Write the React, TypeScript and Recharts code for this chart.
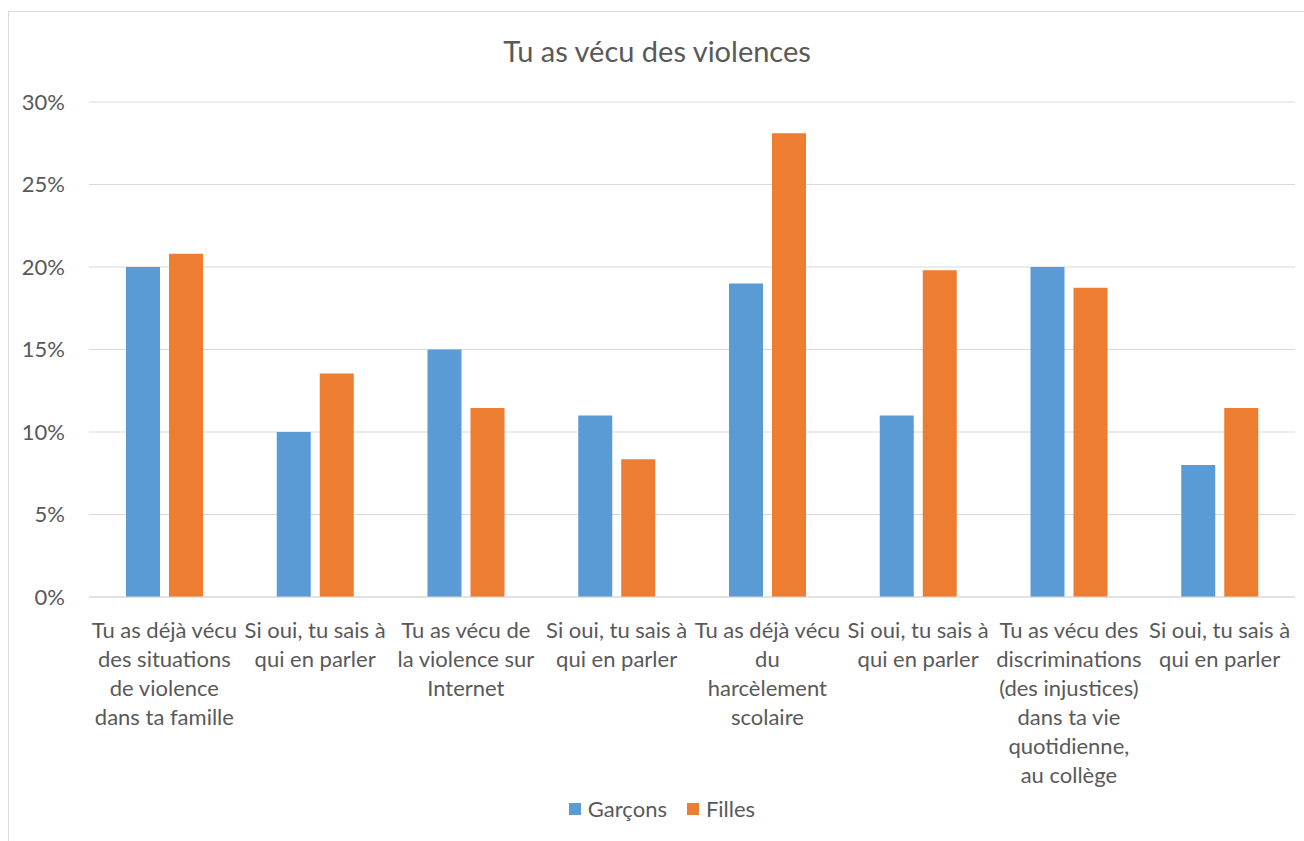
import {
  BarChart,
  Bar,
  XAxis,
  YAxis,
  CartesianGrid,
} from "recharts";

const categories = [
  "Tu as déjà vécu\ndes situations\nde violence\ndans ta famille",
  "Si oui, tu sais à\nqui en parler",
  "Tu as vécu de\nla violence sur\nInternet",
  "Si oui, tu sais à\nqui en parler",
  "Tu as déjà vécu\ndu\nharcèlement\nscolaire",
  "Si oui, tu sais à\nqui en parler",
  "Tu as vécu des\ndiscriminations\n(des injustices)\ndans ta vie\nquotidienne,\nau collège",
  "Si oui, tu sais à\nqui en parler",
];

const garcons = [20, 10, 15, 11, 19, 11, 20, 8];
const filles = [20.8, 13.55, 11.45, 8.35, 28.1, 19.8, 18.75, 11.45];

const yTicks = [0, 5, 10, 15, 20, 25, 30];

const series = [
  { key: "garcons", name: "Garçons", color: "#5B9BD5" },
  { key: "filles", name: "Filles", color: "#ED7D31" },
];

const data = categories.map((label, i) => ({
  label,
  garcons: garcons[i],
  filles: filles[i],
}));

const FONT = "Lato, 'Open Sans', sans-serif";
const TEXT = "#595959";

function CategoryTick({ x, y, payload }: any) {
  const lines = String(payload.value).split("\n");
  return (
    <text
      x={x}
      y={y}
      textAnchor="middle"
      fill={TEXT}
      fontSize={22}
      fontFamily={FONT}
    >
      {lines.map((line, i) => (
        <tspan key={i} x={x} dy={i === 0 ? 33 : 29}>
          {line}
        </tspan>
      ))}
    </text>
  );
}

export default function App() {
  return (
    <div
      style={{
        position: "fixed",
        left: 0,
        top: 0,
        width: 1304,
        height: 841,
        overflow: "hidden",
        background: "#fff",
      }}
    >
      <div
        style={{
          position: "absolute",
          left: 8,
          top: 11,
          width: 1400,
          height: 900,
          borderLeft: "1px solid #d9d9d9",
          borderTop: "1px solid #d9d9d9",
        }}
      />
      <div
        style={{
          position: "absolute",
          left: 0,
          width: 1314,
          top: 33,
          textAlign: "center",
          fontFamily: FONT,
          fontSize: 29,
          color: TEXT,
        }}
      >
        Tu as vécu des violences
      </div>
      <div style={{ position: "absolute", left: 0, top: 0 }}>
        <BarChart
          width={1304}
          height={841}
          data={data}
          margin={{ top: 102, right: 9, bottom: 0, left: 8 }}
          barSize={34}
          barGap={9}
        >
          <CartesianGrid
            vertical={false}
            stroke="#d9d9d9"
          />
          <XAxis
            dataKey="label"
            tick={<CategoryTick />}
            tickLine={false}
            axisLine={{ stroke: "#d9d9d9" }}
            interval={0}
            height={244}
          />
          <YAxis
            domain={[0, 30]}
            ticks={yTicks}
            tickFormatter={(v) => v + "%"}
            axisLine={false}
            tickLine={false}
            tickSize={0}
            tickMargin={24}
            width={81}
            tick={{
              fill: TEXT,
              fontSize: 22,
              fontFamily: FONT,
            }}
          />
          {series.map((s) => (
            <Bar
              key={s.key}
              dataKey={s.key}
              name={s.name}
              fill={s.color}
              isAnimationActive={false}
            />
          ))}
        </BarChart>
      </div>
      <div
        style={{
          position: "absolute",
          top: 795,
          left: 10,
          width: 1304,
          display: "flex",
          justifyContent: "center",
          alignItems: "center",
          gap: 20,
          fontFamily: FONT,
          fontSize: 22,
          color: TEXT,
        }}
      >
        {series.map((s) => (
          <div
            key={s.key}
            style={{ display: "flex", alignItems: "center" }}
          >
            <span
              style={{
                width: 12,
                height: 12,
                background: s.color,
                marginRight: 7,
                display: "inline-block",
              }}
            />
            {s.name}
          </div>
        ))}
      </div>
    </div>
  );
}
